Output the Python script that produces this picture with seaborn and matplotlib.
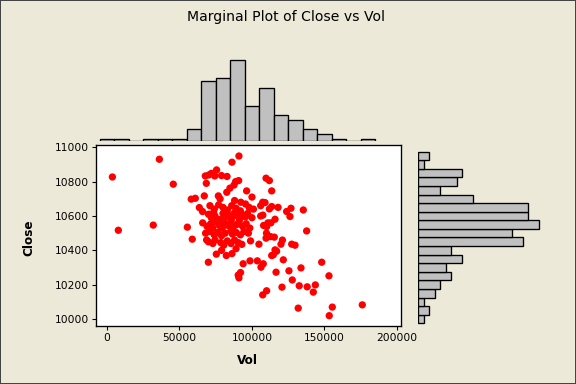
import numpy as np
import pandas as pd
import matplotlib.pyplot as plt
import seaborn as sns
from matplotlib.patches import Rectangle

sns.set_theme(style="white")
plt.rcParams['font.family'] = ['DejaVu Sans']
plt.rcParams['text.color'] = 'black'
plt.rcParams['axes.labelcolor'] = 'black'

# points (outer / visible ones first, then the dense core)
vol = [3700, 7800, 36100, 31900, 45700, 55400, 58800, 58100, 60900, 67100,
       68700, 69900, 75400, 82300, 86200, 67800, 70300, 74300, 75600, 68500,
       82800, 86200, 91000, 88700, 90800, 82600, 84800, 87600, 96300, 92300,
       76800, 90500, 92100, 93900, 109700, 112000, 113600, 107400, 109000, 113600,
       112000, 123900, 126900, 126200, 135400, 115900, 137700, 110100, 109700, 112800,
       115400, 104800, 120000, 127400, 129700, 115900, 114700, 113600, 121600, 148100,
       98600, 103700, 107800, 106200, 116600, 125500, 133800, 153100, 127800, 120700,
       132600, 138100, 143700, 142300, 110100, 107400, 131900, 155400, 153300, 176100,
       63700, 65900,
       72000, 79000,
       78000, 88000, 100000,
       71000, 74000, 77000, 80000, 83000, 86000, 89000, 92000, 95500, 98000,
       101000, 106000, 118000,
       70000, 72000, 73500, 74500, 78000, 80000, 82000, 84000, 86000, 88000,
       90000, 91500, 93000, 95500, 97000, 100000, 107500, 106000,
       66000, 69000, 71500, 73000, 74000, 77500, 79500, 81000, 83500, 85500,
       87000, 89500, 91000, 93500, 96000, 98500, 111000, 108000, 113000,
       68000, 71000, 74000, 76500, 79000, 81500, 85500, 86500, 89000, 92000,
       94500, 97500, 110000,
       70000, 73000, 74500, 78500, 80500, 83000, 85500, 88000, 90500, 93000,
       99000, 121000,
       79000, 89000, 117000,
       91000]
close = [10827, 10517, 10930, 10547, 10785, 10535, 10465, 10698, 10703, 10717,
         10461, 10331, 10378, 10370, 10381, 10833, 10839, 10833, 10868, 10790,
         10830, 10913, 10949, 10800, 10806, 10738, 10762, 10780, 10746, 10680,
         10717, 10256, 10271, 10322, 10820, 10806, 10746, 10680, 10678, 10655,
         10641, 10626, 10645, 10597, 10635, 10581, 10513, 10538, 10471, 10480,
         10477, 10436, 10436, 10436, 10430, 10403, 10374, 10370, 10345, 10331,
         10339, 10339, 10322, 10302, 10273, 10281, 10298, 10252, 10228, 10186,
         10194, 10188, 10199, 10157, 10165, 10141, 10064, 10070, 10020, 10083,
         10649, 10626,
         10848, 10835,
         10700, 10690, 10710,
         10660, 10640, 10665, 10650, 10635, 10660, 10645, 10630, 10670, 10650,
         10640, 10660, 10650,
         10610, 10590, 10620, 10600, 10580, 10615, 10595, 10605, 10585, 10620,
         10600, 10580, 10610, 10595, 10615, 10590, 10605, 10600,
         10560, 10540, 10555, 10530, 10565, 10545, 10530, 10560, 10545, 10570,
         10535, 10550, 10565, 10540, 10555, 10530, 10560, 10545, 10560,
         10500, 10510, 10490, 10505, 10485, 10500, 10515, 10495, 10505, 10490,
         10510, 10500, 10500,
         10450, 10440, 10460, 10445, 10430, 10455, 10440, 10460, 10445, 10435,
         10455, 10460,
         10400, 10410, 10395,
         10240]

df = pd.DataFrame({'Vol': vol, 'Close': close})

bg = '#ECE9D8'
fig = plt.figure(figsize=(6, 4), dpi=96, facecolor=bg)

ax = fig.add_axes([96/576, 58/384, 305/576, 181/384], facecolor='white')
ax_top = fig.add_axes([96/576, 243/384, 305/576, 86/384], sharex=ax)
ax_right = fig.add_axes([418/576, 58/384, 130/576, 181/384], sharey=ax)

sns.scatterplot(data=df, x='Vol', y='Close', color='red', s=30,
                edgecolor='none', ax=ax)
ax.set_xlim(-7600, 202800)
ax.set_ylim(9960, 11013)
ax.set_xticks([0, 50000, 100000, 150000, 200000])
ax.set_yticks([10000, 10200, 10400, 10600, 10800, 11000])
ax.tick_params(bottom=True, left=True, length=3, width=0.8, labelsize=8,
               colors='black', pad=2)
for s in ax.spines.values():
    s.set_color('black')
    s.set_linewidth(1)
ax.set_xlabel('Vol', fontsize=9, fontweight='bold')
ax.set_ylabel('Close', fontsize=9, fontweight='bold')
ax.xaxis.set_label_coords(0.495, -0.155)
ax.yaxis.set_label_coords(-0.2, 0.49)

sns.histplot(data=df, x='Vol', bins=np.arange(-5000, 195000, 10000),
             color='#C0C0C0', edgecolor='black', linewidth=1, alpha=1, ax=ax_top)
ax_top.set_ylim(0, 37)
ax_top.axis('off')

sns.histplot(data=df, y='Close', bins=np.arange(9975, 11000, 50),
             color='#C0C0C0', edgecolor='black', linewidth=1, alpha=1, ax=ax_right)
ax_right.set_xlim(0, 23.6)
ax_right.axis('off')

fig.text(0.497, 1 - 17/384, 'Marginal Plot of Close vs Vol', ha='center',
         va='center', fontsize=10.5, color='black')
fig.patches.append(Rectangle((0, 0), 1, 1, transform=fig.transFigure, fill=False,
                             edgecolor='#444444', linewidth=1.5))

fig.savefig('out.png', dpi=96, facecolor=bg)
